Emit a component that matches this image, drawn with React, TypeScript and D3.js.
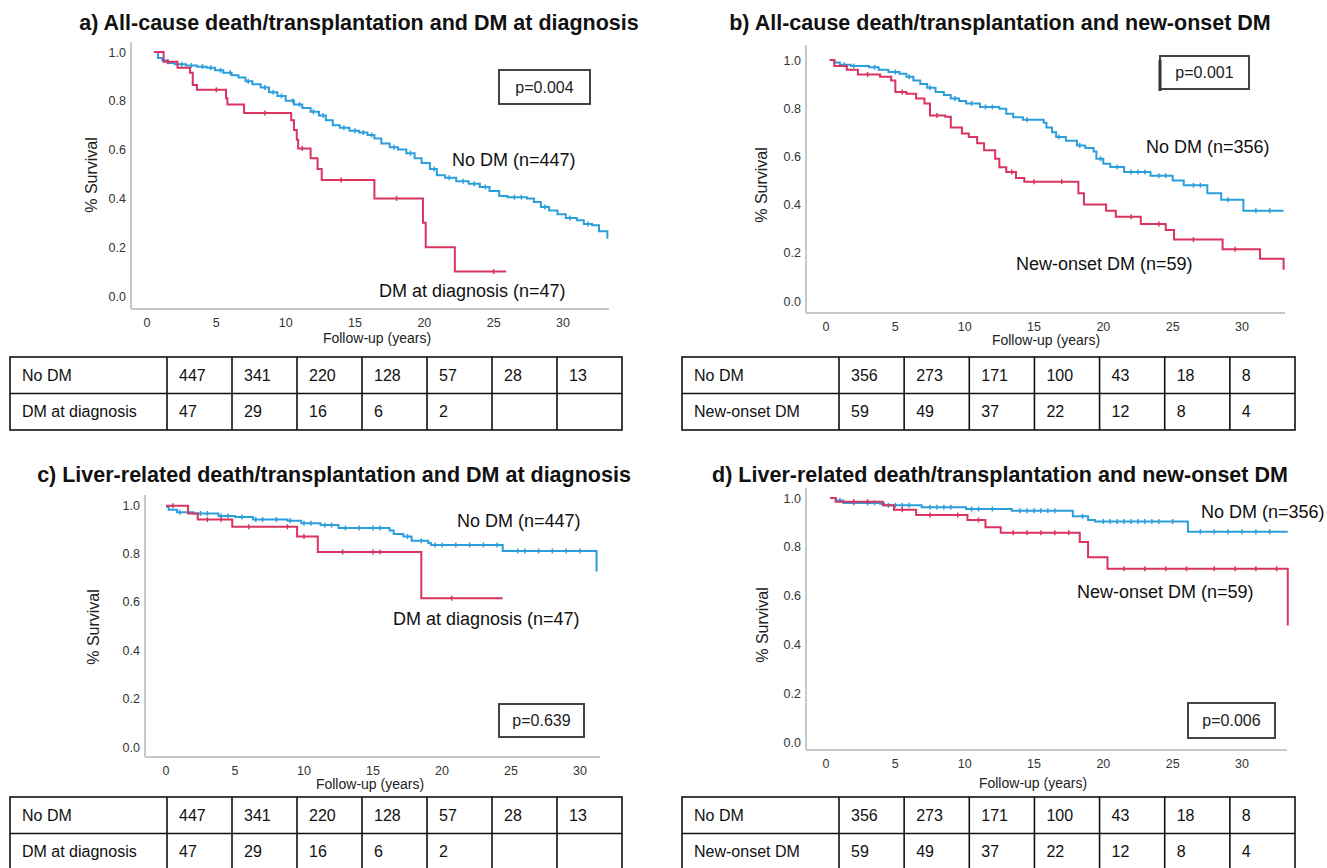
import React from 'react';
import * as d3 from 'd3';

// ---------- shared axis ticks ----------
const xTicks = [0, 5, 10, 15, 20, 25, 30];
const yTicks = [0, 0.2, 0.4, 0.6, 0.8, 1.0];

// ---------- panel a: all-cause, DM at diagnosis ----------
const aNoDMTime = [0.5, 0.8, 1.1, 1.5, 2.0, 2.8, 3.6, 4.3, 4.9, 5.5, 6.1, 6.6, 7.1, 7.6, 8.2, 8.8, 9.4, 10.0, 10.6, 11.2, 11.8, 12.4, 12.9, 13.4, 13.9, 14.6, 15.3, 15.9, 16.4, 16.9, 17.5, 18.1, 18.7, 19.3, 19.8, 20.4, 20.9, 21.5, 22.3, 23.2, 24.0, 24.7, 25.4, 26.0, 27.4, 27.9, 28.4, 29.0, 29.6, 30.2, 31.0, 31.5, 32.1, 32.6, 33.2];
const aNoDMSurv = [1.0, 0.975, 0.965, 0.955, 0.95, 0.945, 0.94, 0.935, 0.925, 0.915, 0.905, 0.895, 0.88, 0.868, 0.855, 0.835, 0.82, 0.80, 0.785, 0.77, 0.755, 0.74, 0.72, 0.70, 0.69, 0.677, 0.67, 0.66, 0.645, 0.625, 0.61, 0.60, 0.585, 0.565, 0.545, 0.52, 0.495, 0.485, 0.47, 0.46, 0.447, 0.43, 0.41, 0.405, 0.40, 0.385, 0.365, 0.35, 0.335, 0.32, 0.31, 0.295, 0.29, 0.265, 0.235];
const aNoDMCensor = [2.5, 3.2, 4.0, 4.6, 5.3, 6.0, 7.3, 8.5, 9.1, 9.7, 10.5, 11.0, 12.0, 12.7, 14.2, 15.0, 15.6, 16.2, 17.8, 19.0, 20.7, 21.8, 22.8, 23.6, 24.4, 26.5, 27.0, 28.7, 30.5, 31.8];
const aDMTime = [0.5, 1.2, 2.2, 3.1, 3.3, 3.6, 5.7, 5.8, 7.0, 10.4, 10.6, 10.8, 10.9, 11.8, 12.3, 12.6, 16.4, 19.9, 20.1, 22.2, 25.9];
const aDMSurv = [1.0, 0.96, 0.935, 0.915, 0.865, 0.845, 0.81, 0.785, 0.75, 0.72, 0.68, 0.64, 0.605, 0.565, 0.52, 0.475, 0.40, 0.30, 0.20, 0.10, 0.10];
const aDMCensor = [1.5, 5.0, 8.5, 11.2, 14.0, 18.0, 25.0];

// ---------- panel b: all-cause, new-onset DM ----------
const bNoDMTime = [0.27, 0.6, 1.0, 1.8, 3.1, 3.8, 4.5, 5.3, 5.8, 6.3, 6.8, 7.3, 7.9, 8.5, 9.0, 9.6, 10.1, 11.1, 12.5, 13.0, 13.5, 14.2, 15.7, 15.9, 16.3, 16.6, 17.3, 18.1, 18.7, 19.3, 19.5, 20.0, 20.5, 21.5, 23.4, 25.0, 25.8, 27.5, 28.5, 30.1, 33.0];
const bNoDMSurv = [1.0, 0.99, 0.98, 0.975, 0.97, 0.96, 0.95, 0.943, 0.93, 0.915, 0.90, 0.885, 0.867, 0.855, 0.84, 0.83, 0.82, 0.805, 0.798, 0.777, 0.762, 0.752, 0.74, 0.72, 0.70, 0.68, 0.665, 0.645, 0.635, 0.62, 0.59, 0.57, 0.556, 0.535, 0.52, 0.50, 0.48, 0.447, 0.42, 0.375, 0.375];
const bNoDMCensor = [1.3, 2.0, 3.5, 5.0, 6.0, 7.5, 9.3, 10.5, 11.5, 12.0, 14.5, 16.8, 18.3, 19.8, 21.0, 22.0, 22.5, 23.0, 24.0, 24.5, 26.5, 27.0, 29.0, 31.0, 32.0];
const bNewTime = [0.27, 0.6, 1.5, 2.3, 3.9, 4.7, 5.0, 5.8, 6.5, 7.1, 7.5, 8.6, 9.0, 9.8, 10.3, 10.9, 11.4, 12.2, 12.5, 13.0, 13.7, 14.3, 18.2, 18.6, 20.2, 20.9, 22.7, 24.5, 25.1, 28.6, 31.3, 33.0];
const bNewSurv = [1.0, 0.975, 0.96, 0.94, 0.93, 0.915, 0.867, 0.86, 0.84, 0.82, 0.77, 0.765, 0.72, 0.695, 0.68, 0.655, 0.626, 0.59, 0.555, 0.535, 0.51, 0.495, 0.447, 0.40, 0.375, 0.35, 0.32, 0.295, 0.255, 0.215, 0.175, 0.13];
const bNewCensor = [3.0, 5.5, 8.0, 13.4, 15.0, 17.0, 22.0, 24.0, 26.5, 29.5];

// ---------- panel c: liver-related, DM at diagnosis ----------
const cNoDMTime = [0, 0.2, 0.8, 2.0, 3.8, 5.0, 6.3, 8.8, 9.8, 11.2, 12.5, 16.2, 16.5, 17.2, 17.8, 19.0, 19.2, 24.4, 31.2];
const cNoDMSurv = [0.993, 0.98, 0.97, 0.965, 0.955, 0.95, 0.94, 0.935, 0.925, 0.917, 0.905, 0.895, 0.88, 0.87, 0.852, 0.843, 0.835, 0.81, 0.725];
const cNoDMCensor = [1, 2.5, 3, 4, 4.5, 5.5, 6.5, 7, 8, 9, 10, 10.5, 11.5, 12, 13, 14, 15, 15.5, 17.5, 18.5, 19.5, 20, 21, 22, 23, 24, 25.5, 26, 27, 28, 29, 30];
const cDMTime = [0, 1.6, 2.3, 4.8, 9.5, 11.0, 18.5, 24.4];
const cDMSurv = [0.997, 0.965, 0.94, 0.91, 0.87, 0.806, 0.615, 0.615];
const cDMCensor = [0.5, 3, 4, 6, 8.8, 10, 12.8, 15, 15.5, 20.7];

// ---------- panel d: liver-related, new-onset DM ----------
const dNoDMTime = [0.3, 0.7, 1.25, 3.9, 4.2, 6.9, 10.1, 13.4, 17.8, 18.9, 19.4, 26.1, 33.3];
const dNoDMSurv = [1.0, 0.99, 0.98, 0.976, 0.97, 0.962, 0.955, 0.948, 0.925, 0.91, 0.904, 0.862, 0.862];
const dNoDMCensor = [1, 2, 3, 3.5, 4.5, 5, 5.5, 6, 7.5, 8, 8.5, 9, 10.5, 11, 12, 14, 14.5, 15, 15.5, 16, 16.5, 18.5, 20, 20.5, 21, 21.5, 22, 22.5, 23, 23.5, 24, 25, 27, 28, 29, 30, 31, 32];
const dNewTime = [0.3, 0.7, 4.1, 4.9, 6.5, 10.2, 11.5, 12.6, 18.3, 18.9, 20.3, 33.3];
const dNewSurv = [1.0, 0.985, 0.97, 0.952, 0.93, 0.91, 0.88, 0.858, 0.82, 0.757, 0.71, 0.477];
const dNewCensor = [2, 3, 5.5, 7.5, 9.5, 11, 13.5, 14.5, 15.5, 16.5, 17.5, 21.5, 23, 24.5, 26, 28, 29.5, 31, 32.5];

// ---------- numbers at risk ----------
const riskRowLabelsAC = ['No DM', 'DM at diagnosis'];
const riskRowLabelsBD = ['No DM', 'New-onset DM'];
const riskNoDM_AC = [447, 341, 220, 128, 57, 28, 13];
const riskDM_AC = [47, 29, 16, 6, 2];
const riskNoDM_BD = [356, 273, 171, 100, 43, 18, 8];
const riskNew_BD = [59, 49, 37, 22, 12, 8, 4];

const BLUE = '#2c9edb';
const RED = '#d8345f';
const FONT = '"Liberation Sans", Arial, Helvetica, sans-serif';

type Curve = { time: number[]; surv: number[]; censor: number[]; color: string };

function survAt(c: Curve, t: number) {
  let s = c.surv[0];
  for (let i = 0; i < c.time.length; i++) {
    if (c.time[i] <= t) s = c.surv[i];
  }
  return s;
}

type PanelCfg = {
  title: string; titleX: number; titleY: number;
  x0: number; x30: number; y0: number; y1: number;
  axL: number; axB: number; axR: number; axT: number;
  curves: Curve[];
  pBox: [number, number, number, number]; pText: string; pLeftExtra?: boolean;
  labels: { text: string; x: number; y: number }[];
  ylabX: number; ylabY: number; xlabX: number; xlabY: number;
  table: { x: number; y: number; w: number; h: number; firstW: number; rows: string[]; values: number[][] };
};

const panels: PanelCfg[] = [
  {
    title: 'a) All-cause death/transplantation and DM at diagnosis', titleX: 359, titleY: 30,
    x0: 147, x30: 563, y0: 296, y1: 52, axL: 131, axB: 309, axR: 609, axT: 42,
    curves: [
      { time: aNoDMTime, surv: aNoDMSurv, censor: aNoDMCensor, color: BLUE },
      { time: aDMTime, surv: aDMSurv, censor: aDMCensor, color: RED },
    ],
    pBox: [499, 70, 91, 34], pText: 'p=0.004',
    labels: [{ text: 'No DM (n=447)', x: 452, y: 166 }, { text: 'DM at diagnosis (n=47)', x: 379, y: 297 }],
    ylabX: 97, ylabY: 175, xlabX: 377, xlabY: 343,
    table: { x: 10, y: 357, w: 612, h: 73, firstW: 157, rows: riskRowLabelsAC, values: [riskNoDM_AC, riskDM_AC] },
  },
  {
    title: 'b) All-cause death/transplantation and new-onset DM', titleX: 1000, titleY: 30,
    x0: 826, x30: 1242, y0: 301, y1: 60, axL: 806, axB: 313, axR: 1285, axT: 45,
    curves: [
      { time: bNoDMTime, surv: bNoDMSurv, censor: bNoDMCensor, color: BLUE },
      { time: bNewTime, surv: bNewSurv, censor: bNewCensor, color: RED },
    ],
    pBox: [1160, 56, 89, 33], pText: 'p=0.001', pLeftExtra: true,
    labels: [{ text: 'No DM (n=356)', x: 1146, y: 153 }, { text: 'New-onset DM (n=59)', x: 1016, y: 270 }],
    ylabX: 767, ylabY: 185, xlabX: 1046, xlabY: 345,
    table: { x: 682, y: 357, w: 613, h: 73, firstW: 157, rows: riskRowLabelsBD, values: [riskNoDM_BD, riskNew_BD] },
  },
  {
    title: 'c) Liver-related death/transplantation and DM at diagnosis', titleX: 334, titleY: 482,
    x0: 166, x30: 580, y0: 747, y1: 505, axL: 145, axB: 757, axR: 600, axT: 495,
    curves: [
      { time: cNoDMTime, surv: cNoDMSurv, censor: cNoDMCensor, color: BLUE },
      { time: cDMTime, surv: cDMSurv, censor: cDMCensor, color: RED },
    ],
    pBox: [499, 704, 85, 33], pText: 'p=0.639',
    labels: [{ text: 'No DM (n=447)', x: 457, y: 527 }, { text: 'DM at diagnosis (n=47)', x: 393, y: 625 }],
    ylabX: 99, ylabY: 627, xlabX: 370, xlabY: 789,
    table: { x: 10, y: 797, w: 612, h: 73, firstW: 157, rows: riskRowLabelsAC, values: [riskNoDM_AC, riskDM_AC] },
  },
  {
    title: 'd) Liver-related death/transplantation and new-onset DM', titleX: 1000, titleY: 482,
    x0: 826, x30: 1242, y0: 742, y1: 498, axL: 806, axB: 750, axR: 1287, axT: 488,
    curves: [
      { time: dNoDMTime, surv: dNoDMSurv, censor: dNoDMCensor, color: BLUE },
      { time: dNewTime, surv: dNewSurv, censor: dNewCensor, color: RED },
    ],
    pBox: [1188, 703, 87, 35], pText: 'p=0.006',
    labels: [{ text: 'No DM (n=356)', x: 1201, y: 518 }, { text: 'New-onset DM (n=59)', x: 1077, y: 598 }],
    ylabX: 768, ylabY: 625, xlabX: 1033, xlabY: 788,
    table: { x: 682, y: 797, w: 613, h: 73, firstW: 157, rows: riskRowLabelsBD, values: [riskNoDM_BD, riskNew_BD] },
  },
];

function Panel({ cfg }: { cfg: PanelCfg }) {
  const x = d3.scaleLinear().domain([0, 30]).range([cfg.x0, cfg.x30]);
  const y = d3.scaleLinear().domain([0, 1]).range([cfg.y0, cfg.y1]);
  const line = d3.line<[number, number]>().x((d) => x(d[0])).y((d) => y(d[1])).curve(d3.curveStepAfter);
  const t = cfg.table;
  const colW = (t.w - t.firstW) / 7;
  const rowH = t.h / 2;
  return (
    <g>
      <text x={cfg.titleX} y={cfg.titleY} textAnchor="middle" fontFamily={FONT} fontWeight="bold" fontSize={21.5} fill="#111">{cfg.title}</text>
      {/* axes */}
      <line x1={cfg.axL} x2={cfg.axL} y1={cfg.axT} y2={cfg.axB} stroke="#c8c8c8" strokeWidth={2} />
      <line x1={cfg.axL} x2={cfg.axR} y1={cfg.axB} y2={cfg.axB} stroke="#c8c8c8" strokeWidth={2} />
      {yTicks.map((v) => (
        <text key={'y' + v} x={cfg.axL - 5} y={y(v) + 4.5} textAnchor="end" fontFamily={FONT} fontSize={12.5} fill="#333">{v.toFixed(1)}</text>
      ))}
      {xTicks.map((v) => (
        <text key={'x' + v} x={x(v)} y={cfg.axB + 18} textAnchor="middle" fontFamily={FONT} fontSize={12.5} fill="#333">{v}</text>
      ))}
      <text x={cfg.xlabX} y={cfg.xlabY} textAnchor="middle" fontFamily={FONT} fontSize={14} fill="#222">Follow-up  (years)</text>
      <text transform={`translate(${cfg.ylabX},${cfg.ylabY}) rotate(-90)`} textAnchor="middle" fontFamily={FONT} fontSize={16} fill="#222">% Survival</text>
      {/* curves */}
      {cfg.curves.map((c, i) => {
        const pts = c.time.map((tt, j) => [tt, c.surv[j]] as [number, number]);
        return (
          <g key={'c' + i}>
            <path d={line(pts) || ''} fill="none" stroke={c.color} strokeWidth={2} />
            {c.censor.map((ct, k) => {
              const s = survAt(c, ct);
              return <line key={k} x1={x(ct)} x2={x(ct)} y1={y(s) - 2.5} y2={y(s) + 2.5} stroke={c.color} strokeWidth={1.5} />;
            })}
          </g>
        );
      })}
      {/* group labels */}
      {cfg.labels.map((l, i) => (
        <text key={'l' + i} x={l.x} y={l.y} fontFamily={FONT} fontSize={18} fill="#111">{l.text}</text>
      ))}
      {/* p box */}
      <rect x={cfg.pBox[0]} y={cfg.pBox[1]} width={cfg.pBox[2]} height={cfg.pBox[3]} fill="#fff" stroke="#444" strokeWidth={2} />
      {cfg.pLeftExtra && (
        <line x1={cfg.pBox[0]} x2={cfg.pBox[0]} y1={cfg.pBox[1] + 4} y2={cfg.pBox[1] + cfg.pBox[3] + 2} stroke="#333" strokeWidth={3} />
      )}
      <text x={cfg.pBox[0] + cfg.pBox[2] / 2} y={cfg.pBox[1] + cfg.pBox[3] / 2 + 5.5} textAnchor="middle" fontFamily={FONT} fontSize={16} fill="#222">{cfg.pText}</text>
      {/* risk table */}
      <rect x={t.x} y={t.y} width={t.w} height={t.h} fill="none" stroke="#111" strokeWidth={1.6} />
      <line x1={t.x} x2={t.x + t.w} y1={t.y + rowH} y2={t.y + rowH} stroke="#111" strokeWidth={1.6} />
      {d3.range(7).map((k) => (
        <line key={'v' + k} x1={t.x + t.firstW + k * colW} x2={t.x + t.firstW + k * colW} y1={t.y} y2={t.y + t.h} stroke="#111" strokeWidth={1.6} />
      ))}
      {t.rows.map((r, ri) => (
        <g key={'r' + ri}>
          <text x={t.x + 12} y={t.y + rowH * ri + 23.5} fontFamily={FONT} fontSize={16} fill="#111">{r}</text>
          {t.values[ri].map((v, ci) => (
            <text key={ci} x={t.x + t.firstW + ci * colW + 12} y={t.y + rowH * ri + 23.5} fontFamily={FONT} fontSize={16} fill="#111">{v}</text>
          ))}
        </g>
      ))}
    </g>
  );
}

export default function App() {
  return (
    <svg width={1327} height={868} style={{ position: 'absolute', left: 0, top: 0, background: '#fff' }}>
      <rect x={0} y={0} width={1327} height={868} fill="#fff" />
      {panels.map((p, i) => (
        <Panel key={i} cfg={p} />
      ))}
    </svg>
  );
}
